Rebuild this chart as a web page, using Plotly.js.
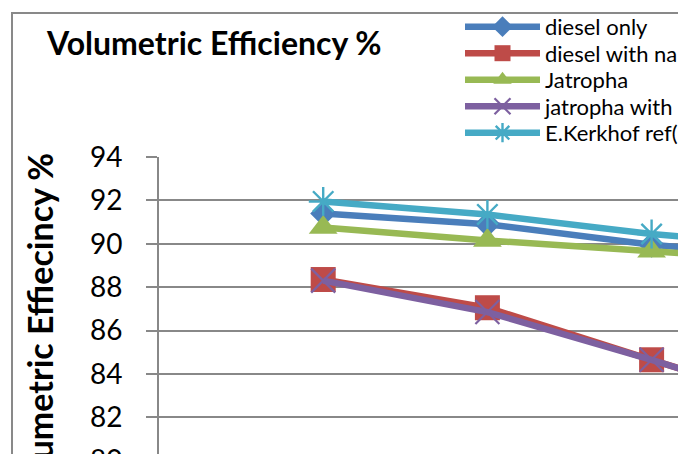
<!DOCTYPE html>
<html>
<head>
<meta charset="utf-8">
<script src="https://cdn.plot.ly/plotly-3.0.1.min.js"></script>
<style>
  html, body { margin: 0; padding: 0; background: #ffffff; }
  #clip { position: absolute; left: 0; top: 0; width: 678px; height: 454px; overflow: hidden; background: #ffffff; }
  #frame { position: absolute; left: 11px; top: 12px; width: 1000px; height: 700px; border: 2px solid #898989; }
  #chart { width: 1000px; height: 700px; }
</style>
</head>
<body>
<div id="clip"><div id="frame"><div id="chart"></div></div></div>
<script>
// Test points along the x axis
const loadSteps = [1, 2, 3, 4];

// Volumetric efficiency (%) for each fuel
const dieselOnly       = [91.4, 90.9, 89.95, 89.3];
const dieselWithNano   = [88.35, 87.05, 84.65, 82.3];
const jatropha         = [90.75, 90.15, 89.65, 89.2];
const jatrophaWithNano = [88.3, 86.85, 84.65, 82.25];
const kerkhofRef       = [91.95, 91.35, 90.45, 89.8];

const seriesNames = [
  'diesel only',
  'diesel with nano additive',
  'Jatropha',
  'jatropha with nano additive',
  'E.Kerkhof ref(1)'
];

const yTickValues = [78, 80, 82, 84, 86, 88, 90, 92, 94];

const FONT = 'Lato, "Open Sans", sans-serif';
const LEGEND_ROW = 26.5;        // row pitch of the legend
const LEGEND_FIRST_ROW = 26.7;  // page y of the first legend swatch
const LEGEND_SWATCH_LEFT = 465; // page x where the swatches start

function series(name, y, color, marker) {
  return {
    type: 'scatter',
    mode: 'lines+markers',
    name: name,
    x: loadSteps,
    y: y,
    line: { color: color, width: 6.5 },
    marker: Object.assign({ color: color }, marker),
    cliponaxis: false
  };
}

const traces = [
  series(seriesNames[0], dieselOnly, '#4a7ebb', { symbol: 'diamond', size: 20, line: { width: 0 } }),
  series(seriesNames[1], dieselWithNano, '#be4b48', { symbol: 'square', size: 25, line: { width: 0 } }),
  series(seriesNames[2], jatropha, '#98b954', { symbol: 'triangle-up', size: 25, line: { width: 0 } }),
  series(seriesNames[3], jatrophaWithNano, '#7d60a0', { symbol: 'x-thin-open', size: 24, line: { width: 2.2, color: '#7d60a0' } }),
  series(seriesNames[4], kerkhofRef, '#46aac5', { symbol: 'asterisk-open', size: 24, line: { width: 2.4, color: '#46aac5' } })
];

const layout = {
  width: 1000,
  height: 700,
  margin: { l: 146, r: 33, t: 143, b: 210 },
  paper_bgcolor: '#ffffff',
  plot_bgcolor: '#ffffff',
  font: { family: FONT, color: '#000000' },
  showlegend: true,
  title: {
    text: 'Volumetric Efficiency %',
    font: { family: FONT, size: 32, weight: 700, color: '#000000' },
    xref: 'container', x: 0.034, xanchor: 'left',
    yref: 'container', y: 0.958, yanchor: 'middle'
  },
  legend: {
    x: 0.372, xanchor: 'left',
    y: 1.36, yanchor: 'top',
    bgcolor: 'rgba(0,0,0,0)',
    borderwidth: 0,
    itemwidth: 75,
    tracegroupgap: 0,
    font: { family: FONT, size: 22, color: '#000000' }
  },
  xaxis: {
    range: [0, 5],
    showgrid: false,
    zeroline: false,
    showticklabels: false,
    ticks: '',
    showline: false
  },
  yaxis: {
    range: [78, 94],
    tickvals: yTickValues,
    showgrid: true,
    gridcolor: '#888888',
    gridwidth: 2,
    zeroline: false,
    showline: true,
    linecolor: '#888888',
    linewidth: 2,
    ticks: 'outside',
    ticklen: 11,
    tickwidth: 2,
    tickcolor: '#888888',
    ticklabelstandoff: 18,
    tickfont: { family: FONT, size: 28, color: '#000000' },
    title: {
      text: 'Volumetric Effiecincy %',
      font: { family: FONT, size: 34, weight: 700, color: '#000000' },
      standoff: 26
    }
  }
};

function parseTranslate(t) {
  const m = /translate\(\s*([-\d.e]+)[ ,]+([-\d.e]+)\s*\)/.exec(t || '');
  return m ? [parseFloat(m[1]), parseFloat(m[2])] : [0, 0];
}

Plotly.newPlot('chart', traces, layout, { staticPlot: true, displayModeBar: false }).then(function (gd) {
  // Long Excel-style legend swatches with centred markers
  gd.querySelectorAll('.legend .traces path.js-line').forEach(function (p) {
    p.setAttribute('d', 'M5,0h75');
  });
  gd.querySelectorAll('.legend .traces .legendpoints path.scatterpts').forEach(function (p) {
    p.setAttribute('transform', 'translate(42.5,0)');
  });
  // Tighter row pitch
  const items = gd.querySelectorAll('.legend .traces');
  if (!items.length) return;
  const first = parseTranslate(items[0].getAttribute('transform'));
  items.forEach(function (g, i) {
    const pos = parseTranslate(g.getAttribute('transform'));
    g.setAttribute('transform', 'translate(' + pos[0] + ',' + (first[1] + i * LEGEND_ROW) + ')');
  });
  // Place the legend block so the first swatch sits at its spot
  const legendGroup = gd.querySelector('g.legend');
  const firstLine = items[0].querySelector('path.js-line');
  if (legendGroup && firstLine) {
    const r = firstLine.getBoundingClientRect();
    const dx = LEGEND_SWATCH_LEFT - r.left;
    const dy = LEGEND_FIRST_ROW - (r.top + r.height / 2);
    const pos = parseTranslate(legendGroup.getAttribute('transform'));
    legendGroup.setAttribute('transform', 'translate(' + (pos[0] + dx) + ',' + (pos[1] + dy) + ')');
  }
});
</script>
</body>
</html>
